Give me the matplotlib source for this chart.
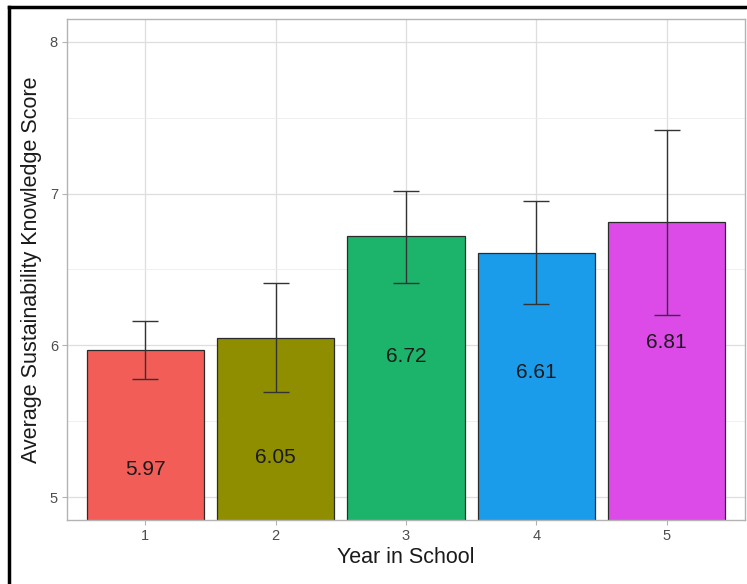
import numpy as np
import matplotlib
matplotlib.use("Agg")
import matplotlib.pyplot as plt
from matplotlib.lines import Line2D
from matplotlib.ticker import MultipleLocator

# data
years = [1, 2, 3, 4, 5]
means = [5.97, 6.05, 6.72, 6.61, 6.81]
err_lo = [5.78, 5.69, 6.41, 6.27, 6.20]
err_hi = [6.16, 6.41, 7.02, 6.95, 7.42]
colors = ['#F25D58', '#8E8E00', '#1CB46B', '#1A9CEB', '#DC4AE8']

plt.rcParams['font.family'] = ['Liberation Sans', 'DejaVu Sans']

fig = plt.figure(figsize=(7.47, 5.84), dpi=100)
ax = fig.add_axes([67/747, 1-520/584, (745-67)/747, (520-19)/584])

x = np.array(years)
m = np.array(means)
ax.bar(x, m, width=0.9, color=colors, edgecolor='#2b2b2b', linewidth=0.9, zorder=2)
ax.errorbar(x, m, yerr=[m - np.array(err_lo), np.array(err_hi) - m],
            fmt='none', ecolor='#333333', elinewidth=1.0, capsize=9.4,
            capthick=1.0, zorder=3)

for xi, v in zip(x, m):
    ax.text(xi, v - 0.79, '%.2f' % v, ha='center', va='center',
            fontsize=15, color='#1a1a1a', zorder=4)

ax.set_xlim(0.4, 5.6)
ax.set_ylim(4.85, 8.15)
ax.set_xticks(years)
ax.set_yticks([5, 6, 7, 8])
ax.yaxis.set_minor_locator(MultipleLocator(0.5))
ax.tick_params(axis='both', which='major', length=3.5, width=0.8,
               color='#b3b3b3', labelcolor='#4d4d4d', labelsize=10.5, pad=3)
ax.tick_params(axis='y', which='minor', length=0)

ax.grid(which='major', color='#dedede', linewidth=0.9, zorder=0)
ax.grid(which='minor', axis='y', color='#ececec', linewidth=0.6, zorder=0)
ax.set_axisbelow(True)
for s in ax.spines.values():
    s.set_color('#b3b3b3')
    s.set_linewidth(1.0)

ax.set_xlabel('Year in School', fontsize=15.5, color='#1a1a1a', labelpad=3)
ax.set_ylabel('Average Sustainability Knowledge Score', fontsize=15.5,
              color='#1a1a1a', labelpad=6)

# black frame on top and left of the screenshot
fig.add_artist(Line2D([9/747, 1], [1-7/584, 1-7/584], color='black', linewidth=2.5))
fig.add_artist(Line2D([9/747, 9/747], [0, 1-7/584], color='black', linewidth=2.5))

fig.savefig('out.png', dpi=100, facecolor='white')
